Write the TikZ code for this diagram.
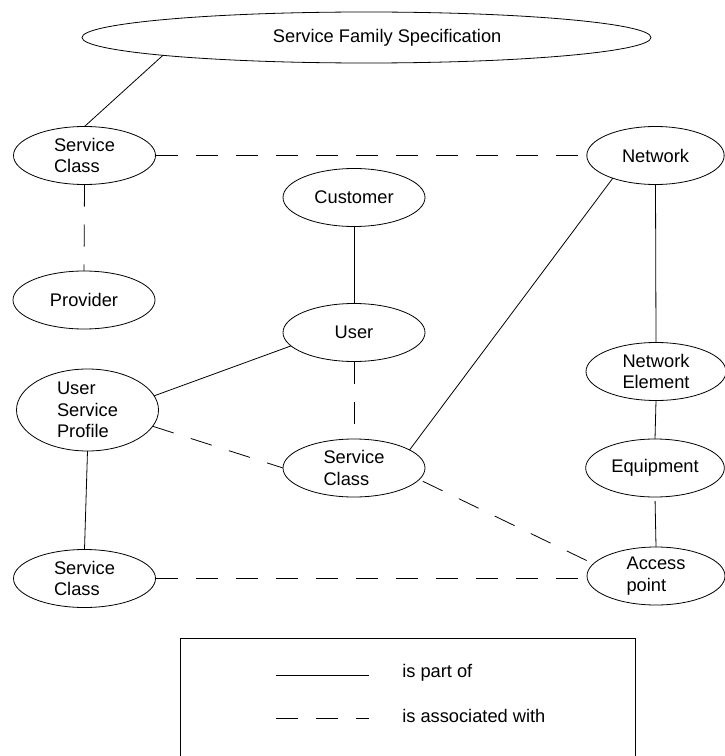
\documentclass[tikz,border=0pt]{standalone}
\usepackage{fontspec}
\setmainfont{Liberation Sans}
\usetikzlibrary{shapes.geometric}

\tikzset{
  entity/.style={ellipse, draw, line width=0.6pt, inner sep=0pt, outer sep=0pt,
    minimum width=106.5pt, minimum height=43.5pt, align=left,
    font=\fontsize{13.7}{16}\selectfont},
  partof/.style={line width=0.6pt},
  assoc/.style={line width=0.6pt, dash pattern=on 16.5pt off 13.5pt},
}

\begin{document}
\begin{tikzpicture}[x=0.75pt, y=-0.75pt]
\useasboundingbox (0,0) rectangle (724,756);

% the entities
\node [entity, minimum width=426.75pt, minimum height=38.25pt, name=sfs] at (366.5,37.5) {\hspace*{31pt}Service Family Specification};
\node [entity, name=sc1] at (84.5,155.5) {Service\\Class};
\node [entity, minimum width=103pt, name=net] at (655.5,155.5) {Network};
\node [entity, name=cust] at (354,197.5) {Customer};
\node [entity, name=prov] at (84,300) {Provider};
\node [entity, name=user] at (354,332.5) {User};
\node [entity, minimum width=105pt, name=ne] at (656,371.5) {Network\\Element};
\node [entity, minimum height=61.5pt, name=usp] at (87.5,410) {User\\Service\\Profile};
\node [entity, name=sc2] at (354,468) {Service\\Class};
\node [entity, minimum width=104pt, name=equip] at (655,468) {Equipment};
\node [entity, name=sc3] at (84.5,578.5) {Service\\Class};
\node [entity, minimum width=103.5pt, name=ap] at (656,576) {Access\\point};

% is part of
\draw [partof] (sfs.185) -- (sc1.north);
\draw [partof] (cust.south) -- (user.north);
\draw [partof] (user.192) -- (usp.12);
\draw [partof] (net.208) -- (sc2.18);
\draw [partof] (net.south) -- (ne.north);
\draw [partof] (ne.south) -- (equip.north);
\draw [partof, shorten <=3pt] (equip.south) -- (ap.north);
\draw [partof] (usp.south) -- (sc3.north);

% is associated with
\draw [assoc, shorten >=5pt] (sc1.east) -- (net.west);
\draw [assoc] (sc1.south) -- (prov.north);
\draw [assoc] (user.south) -- (sc2.north);
\draw [assoc] (usp.-14) -- (sc2.west);
\draw [assoc, shorten <=3pt] (sc2.-10) -- (ap.169);
\draw [assoc] (sc3.east) -- (ap.west |- sc3.east);

% legend
\draw [partof] (180,756) |- (635,638) -- (635,756);
\coordinate (partA) at (276,675);
\coordinate (partB) at (369,675);
\coordinate (assocA) at (276,718);
\coordinate (assocB) at (369,718);
\draw [partof] (partA) -- (partB);
\draw [assoc] (assocA) -- (assocB);
\node [anchor=base west, inner sep=0pt, font=\fontsize{13.7}{16}\selectfont, name=partlbl] at (402,677) {is part of};
\node [anchor=base west, inner sep=0pt, font=\fontsize{13.7}{16}\selectfont, name=assoclbl] at (402,722) {is associated with};
\end{tikzpicture}
\end{document}
